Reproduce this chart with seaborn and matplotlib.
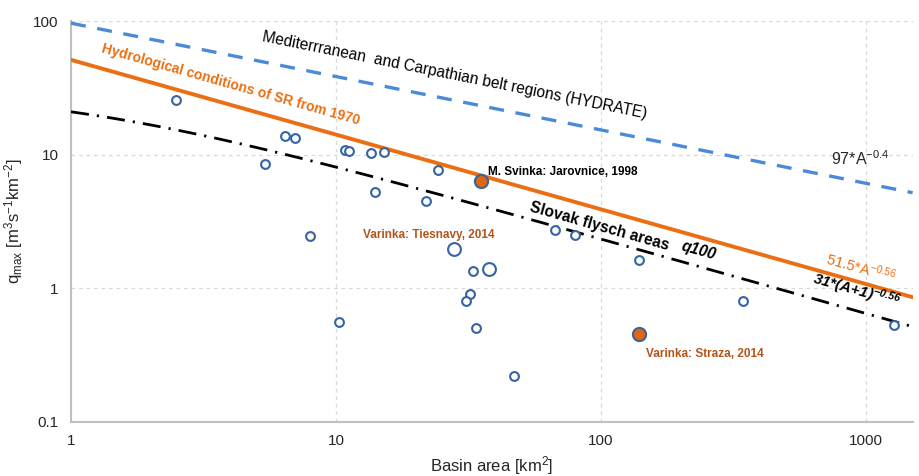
import numpy as np
import pandas as pd
import matplotlib
matplotlib.use("Agg")
import matplotlib.pyplot as plt
import seaborn as sns

# ---------------- data ----------------
# small open circles
small_area = [2.5, 5.4, 6.4, 7.0, 8.0, 10.8, 11.2, 13.5, 15.2, 14.0, 21.9, 24.3,
              10.3, 32.9, 32.0, 31.0, 33.7, 47.1, 67.0, 79.6, 138.7, 342.0, 1276.0]
small_q = [25.9, 8.6, 13.9, 13.3, 2.48, 10.9, 10.6, 10.3, 10.5, 5.3, 4.54, 7.75,
           0.56, 1.34, 0.91, 0.80, 0.50, 0.22, 2.75, 2.51, 1.62, 0.80, 0.53]
# large open circles
large_area = [27.9, 37.9]
large_q = [1.97, 1.39]
# highlighted events (filled)
event_area = [35.3, 139.5]
event_q = [6.41, 0.455]

# envelope curves q = c * (A + shift) ** b
hydrate_coef = [97.0, -0.4, 0.0]
sr_coef = [51.5, -0.56, 0.0]
flysch_coef = [31.0, -0.56, 1.0]

x_min, x_max = 1, 1500
y_min, y_max = 0.1, 100
xticks = [1, 10, 100, 1000]
yticks = [0.1, 1, 10, 100]
xtick_labels = ["1", "10", "100", "1000"]
ytick_labels = ["0.1", "1", "10", "100"]

# ---------------- style ----------------
sns.set_theme(style="white")
plt.rcParams["font.family"] = ["Liberation Sans", "DejaVu Sans"]
plt.rcParams["mathtext.default"] = "regular"

BLUE_LINE = "#4a8ad8"
ORANGE = "#ec6e12"
EDGE = "#3464a4"
FILL = "#e0660f"
BROWN = "#b5541a"
GRID = "#d9d9d9"
SPINE = "#bfbfbf"

fig = plt.figure(figsize=(9.2, 4.76), dpi=100)
ax = fig.add_axes([0.0772, 0.114, 0.9148, 0.841])
ax.set_xscale("log")
ax.set_yscale("log")
ax.set_xlim(x_min, x_max)
ax.set_ylim(y_min, y_max)

xs = np.geomspace(x_min, x_max, 200)


def curve(coef):
    c, b, s = coef
    return c * (xs + s) ** b


lines = pd.DataFrame({
    "A": xs,
    "hydrate": curve(hydrate_coef),
    "sr": curve(sr_coef),
    "flysch": curve(flysch_coef),
})

sns.lineplot(data=lines, x="A", y="hydrate", ax=ax, color=BLUE_LINE, lw=2.4,
             zorder=3).lines[-1].set_dashes([4.5, 3.5])
sns.lineplot(data=lines, x="A", y="sr", ax=ax, color=ORANGE, lw=2.8, zorder=3)
sns.lineplot(data=lines, x="A", y="flysch", ax=ax, color="black", lw=2.0,
             zorder=3).lines[-1].set_dashes([6.5, 2.9, 0.8, 2.9])

small = pd.DataFrame({"A": small_area, "q": small_q})
large = pd.DataFrame({"A": large_area, "q": large_q})
events = pd.DataFrame({"A": event_area, "q": event_q})
sns.scatterplot(data=small, x="A", y="q", ax=ax, s=40, facecolor="white",
                edgecolor=EDGE, linewidth=1.5, zorder=4)
sns.scatterplot(data=large, x="A", y="q", ax=ax, s=85, facecolor="white",
                edgecolor=EDGE, linewidth=1.5, zorder=4)
sns.scatterplot(data=events, x="A", y="q", ax=ax, s=90, facecolor=FILL,
                edgecolor=EDGE, linewidth=1.5, zorder=5)

# ---------------- axes ----------------
ax.set_xticks(xticks)
ax.set_xticklabels(xtick_labels)
ax.set_yticks(yticks)
ax.set_yticklabels(ytick_labels)
ax.minorticks_off()
ax.tick_params(axis="both", which="major", labelsize=11, colors="#262626",
               length=5, width=1.2, direction="out", pad=4)
ax.tick_params(axis="both", color=SPINE)
ax.grid(True, which="major", color=GRID, linestyle=(0, (3, 3)), linewidth=0.9)
ax.set_axisbelow(True)
for side in ["top", "right"]:
    ax.spines[side].set_visible(False)
for side in ["left", "bottom"]:
    ax.spines[side].set_color(SPINE)
    ax.spines[side].set_linewidth(1.5)

ax.set_xlabel("Basin area [km$^{2}$]", fontsize=12, color="#262626", labelpad=4)
ax.set_ylabel("q$_{max}$ [m$^{3}$s$^{-1}$km$^{-2}$]", fontsize=12,
              color="#262626", labelpad=6)


def screen_angle(coef):
    c, b, s = coef
    p1 = ax.transData.transform((10, c * (10 + s) ** b))
    p2 = ax.transData.transform((1000, c * (1000 + s) ** b))
    return np.degrees(np.arctan2(p2[1] - p1[1], p2[0] - p1[0]))


ang_h = screen_angle(hydrate_coef)
ang_s = screen_angle(sr_coef)

ax.text(28.1, 39.2, "Mediterrranean  and Carpathian belt regions (HYDRATE)",
        rotation=ang_h, rotation_mode="anchor", ha="center", va="center",
        fontsize=11.2, color="black")
ax.text(4.0, 33.8, "Hydrological conditions of SR from 1970", rotation=ang_s,
        rotation_mode="anchor", ha="center", va="center", fontsize=10,
        fontweight="bold", color=ORANGE)
ax.text(99, 2.92, "Slovak flysch areas", rotation=ang_s,
        rotation_mode="anchor", ha="center", va="center", fontsize=11.2,
        fontweight="bold", color="black")
ax.text(234, 1.92, "q100", rotation=ang_s,
        rotation_mode="anchor", ha="center", va="center", fontsize=11.2,
        fontweight="bold", fontstyle="italic", color="black")
ax.text(949, 9.36, "97*A$^{-0.4}$", ha="center", va="center", fontsize=11.5,
        color="#262626")
ax.text(957, 1.42, "51.5*A$^{-0.56}$", rotation=ang_s, rotation_mode="anchor",
        ha="center", va="center", fontsize=10.5, color=ORANGE)
ax.text(925, 0.95, "31*(A+1)$^{-0.56}$", rotation=ang_s,
        rotation_mode="anchor", ha="center", va="center", fontsize=11,
        fontweight="bold", fontstyle="italic", color="black")
ax.text(37.6, 7.39, "M. Svinka: Jarovnice, 1998", ha="left", va="center",
        fontsize=8.5, fontweight="bold", color="black")
ax.text(12.6, 2.52, "Varinka: Tiesnavy, 2014", ha="left", va="center",
        fontsize=8.5, fontweight="bold", color=BROWN)
ax.text(147.5, 0.323, "Varinka: Straza, 2014", ha="left", va="center",
        fontsize=8.5, fontweight="bold", color=BROWN)

fig.savefig("out.png", dpi=100)
